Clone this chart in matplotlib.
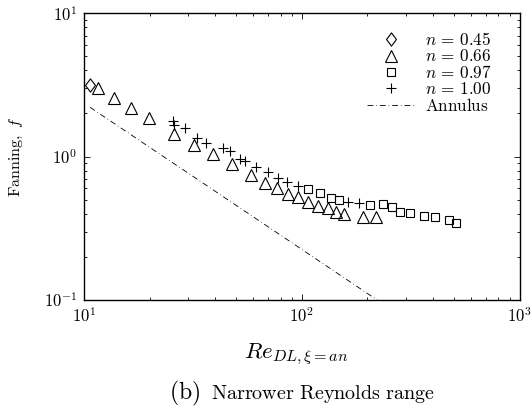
import math
import matplotlib
matplotlib.use('Agg')
import matplotlib.pyplot as plt
from matplotlib.path import Path
from matplotlib.ticker import FuncFormatter, LogLocator

matplotlib.rcParams.update({
    'mathtext.fontset': 'cm',
    'font.family': 'serif',
    'font.serif': ['DejaVu Serif'],
    'axes.linewidth': 1.0,
})

# n = 0.45
re_045 = [10.66]
f_045 = [3.16]

# n = 0.66
re_066 = [11.6, 13.8, 16.4, 19.9, 25.8, 32.1, 39.0, 47.6, 58.4, 67.8, 76.9,
          86.7, 96.4, 107, 119, 132, 144, 157, 192, 219]
f_066 = [3.00, 2.58, 2.17, 1.87, 1.45, 1.205, 1.04, 0.884, 0.745, 0.658, 0.601,
         0.548, 0.520, 0.480, 0.454, 0.435, 0.412, 0.398, 0.381, 0.381]

# n = 0.97
re_097 = [106.6, 121.3, 136.5, 148, 206, 237, 259, 283.5, 314, 364, 409, 476, 509]
f_097 = [0.591, 0.557, 0.512, 0.501, 0.462, 0.469, 0.447, 0.4125, 0.404, 0.385,
         0.377, 0.359, 0.347]

# n = 1.00
re_100 = [25.5, 26.0, 29.1, 33.0, 36.5, 43.5, 46.7, 52.2, 54.8, 61.8, 70.2,
          77.4, 85.8, 96.6, 163, 183]
f_100 = [1.78, 1.676, 1.576, 1.36, 1.244, 1.148, 1.09, 0.958, 0.936, 0.853, 0.781,
         0.711, 0.668, 0.624, 0.484, 0.478]

# annulus laminar line (end points)
re_ann = [10.66, 222]
f_ann = [2.21, 0.1]

diamond = Path([(0, 1), (0.75, 0), (0, -1), (-0.75, 0), (0, 1)],
               [Path.MOVETO, Path.LINETO, Path.LINETO, Path.LINETO, Path.CLOSEPOLY])

fig = plt.figure(figsize=(5.32, 4.08), dpi=100)
ax = fig.add_axes([84 / 532, 108 / 408, 435.5 / 532, 286.7 / 408])

mk = dict(linestyle='none', markerfacecolor='none', markeredgecolor='black',
          markeredgewidth=0.8)
ax.plot(re_045, f_045, marker=diamond, markersize=9.5, label=r'$n\,=\,0.45$', **mk)
ax.plot(re_066, f_066, marker='^', markersize=8.5, label=r'$n\,=\,0.66$', **mk)
ax.plot(re_097, f_097, marker='s', markersize=6, label=r'$n\,=\,0.97$', **mk)
ax.plot(re_100, f_100, marker='+', markersize=6.5, label=r'$n\,=\,1.00$', **mk)
ax.plot(re_ann, f_ann, color='black', linewidth=0.6,
        dashes=(7, 3.5, 0.8, 3.5), label=r'$\mathrm{Annulus}$')

ax.set_xscale('log')
ax.set_yscale('log')
ax.set_xlim(10, 1000)
ax.set_ylim(0.1, 10)

fmt = FuncFormatter(lambda v, p: r'$10^{%d}$' % round(math.log10(v)))
ax.xaxis.set_major_formatter(fmt)
ax.yaxis.set_major_formatter(fmt)
ax.xaxis.set_major_locator(LogLocator(base=10))
ax.yaxis.set_major_locator(LogLocator(base=10))
ax.tick_params(which='both', direction='in', top=True, right=True,
               labelsize=12, width=0.6)
ax.tick_params(which='major', length=4, pad=5)
ax.tick_params(which='minor', length=2)

ax.set_ylabel(r'$\mathrm{Fanning},\ f$', fontsize=11.5, va='center')
ax.yaxis.set_label_coords(-0.156, 0.5)

fig.text(296 / 532, 1 - 354 / 408, r'$Re_{DL,\xi=an}$', fontsize=16.5,
         ha='center', va='center')
fig.text(200 / 532, 1 - 393 / 408, r'$\mathrm{(b)}$', fontsize=17,
         ha='right', va='center')
fig.text(211 / 532, 1 - 394 / 408, r'$\mathrm{Narrower\ Reynolds\ range}$',
         fontsize=14.5, ha='left', va='center')

leg = ax.legend(loc='upper left', bbox_to_anchor=(367 / 532, 1 - 32 / 408),
                bbox_transform=fig.transFigure, frameon=False, fontsize=12.3,
                numpoints=1, handlelength=2.8, handletextpad=0.58,
                labelspacing=-0.03, borderpad=0, borderaxespad=0)

fig.savefig('out.png', dpi=100, facecolor='white')
